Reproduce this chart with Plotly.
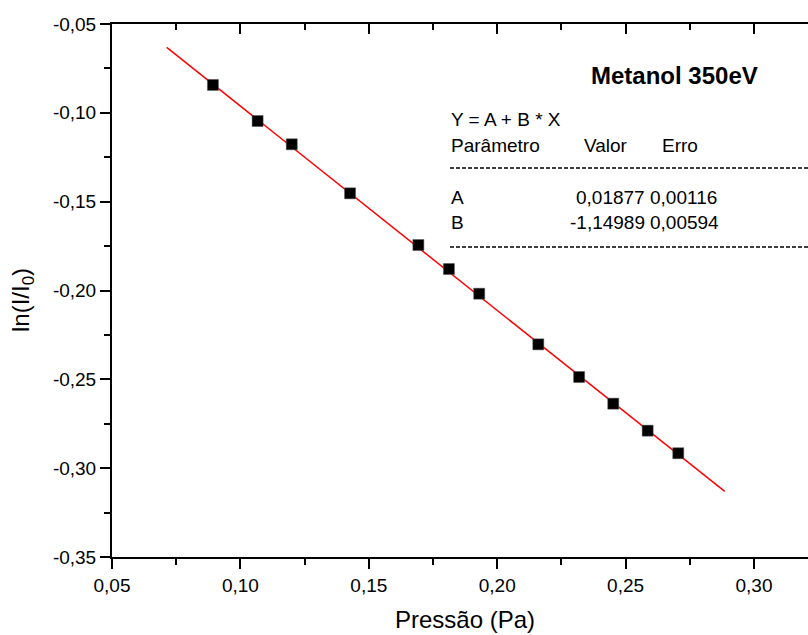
import plotly.graph_objects as go

# Data
pressao = [0.0893, 0.1067, 0.1200, 0.1427, 0.1693, 0.1812, 0.1930, 0.2160, 0.2319, 0.2452, 0.2586, 0.2705]
ln_ratio = [-0.0843, -0.1046, -0.1177, -0.1453, -0.1744, -0.1879, -0.2018, -0.2303, -0.2487, -0.2637, -0.2789, -0.2916]

fit_x = [0.0713, 0.2886]
fit_y = [-0.0632, -0.3131]

x_tickvals = [0.05, 0.10, 0.15, 0.20, 0.25, 0.30]
x_ticktext = ["0,05", "0,10", "0,15", "0,20", "0,25", "0,30"]
y_tickvals = [-0.35, -0.30, -0.25, -0.20, -0.15, -0.10, -0.05]
y_ticktext = ["-0,35", "-0,30", "-0,25", "-0,20", "-0,15", "-0,10", "-0,05"]

FONT = "Arial, Liberation Sans, sans-serif"
W, H = 808, 635
L, R, T, B = 112, 0, 24, 78
PW, PH = W - L - R, H - T - B


def px(x):
    return (x - L) / PW


def py(y):
    return (H - B - y) / PH


fig = go.Figure()
fig.add_trace(go.Scatter(x=fit_x, y=fit_y, mode="lines",
                         line=dict(color="#ff0000", width=1.5), hoverinfo="skip"))
fig.add_trace(go.Scatter(x=pressao, y=ln_ratio, mode="markers",
                         marker=dict(symbol="square", size=11, color="black",
                                     line=dict(width=0.5, color="#555"))))
fig.add_trace(go.Scatter(x=[None], y=[None], xaxis="x2", mode="markers",
                         marker=dict(opacity=0), hoverinfo="skip"))

xr = [0.05, 0.05 + 0.05 * PW / 128.4]
axis_common = dict(showgrid=False, zeroline=False, showline=True, linecolor="black",
                   linewidth=2, tickcolor="black", tickwidth=2,
                   tickfont=dict(family=FONT, size=19, color="black"))

fig.update_layout(
    width=W, height=H, showlegend=False,
    plot_bgcolor="white", paper_bgcolor="white",
    margin=dict(l=L, r=R, t=T, b=B),
    xaxis=dict(range=xr, tickmode="array", tickvals=x_tickvals, ticktext=x_ticktext,
               ticks="outside", ticklen=10,
               minor=dict(dtick=0.025, tick0=0.05, ticks="outside", ticklen=6,
                          tickwidth=2, tickcolor="black"),
               **axis_common),
    xaxis2=dict(range=xr, overlaying="x", side="top", anchor="y", tickmode="array",
                tickvals=x_tickvals, showticklabels=False, ticks="inside", ticklen=10,
                minor=dict(dtick=0.025, tick0=0.05, ticks="inside", ticklen=6,
                           tickwidth=2, tickcolor="black"),
                **axis_common),
    yaxis=dict(range=[-0.35, -0.05], tickmode="array", tickvals=y_tickvals,
               ticktext=y_ticktext, ticks="outside", ticklen=10,
               minor=dict(dtick=0.025, tick0=-0.35, ticks="outside", ticklen=6,
                          tickwidth=2, tickcolor="black"),
               **axis_common),
)

txt = dict(family=FONT, size=19, color="black")
ann = [
    dict(text="<b>Metanol 350eV</b>", x=px(674), y=py(75), xanchor="center",
         font=dict(family=FONT, size=24, color="black")),
    dict(text="Y = A + B * X", x=px(449), y=py(120), xanchor="left", font=txt),
    dict(text="Parâmetro", x=px(449), y=py(145), xanchor="left", font=txt),
    dict(text="Valor", x=px(606), y=py(145), xanchor="center", font=txt),
    dict(text="Erro", x=px(660), y=py(145), xanchor="left", font=txt),
    dict(text="A", x=px(449), y=py(197), xanchor="left", font=txt),
    dict(text="0,01877", x=px(647), y=py(197), xanchor="right", font=txt),
    dict(text="0,00116", x=px(648), y=py(197), xanchor="left", font=txt),
    dict(text="B", x=px(449), y=py(222), xanchor="left", font=txt),
    dict(text="-1,14989", x=px(647), y=py(222), xanchor="right", font=txt),
    dict(text="0,00594", x=px(648), y=py(222), xanchor="left", font=txt),
    dict(text="Pressão (Pa)", x=px(465), y=py(619), xanchor="center",
         font=dict(family=FONT, size=24, color="black")),
    dict(text="ln(I/I<sub>0</sub>)", x=px(22), y=py(300), xanchor="center",
         textangle=-90, font=dict(family=FONT, size=24, color="black")),
]
for a in ann:
    a.update(xref="paper", yref="paper", showarrow=False, yanchor="middle")
fig.update_layout(annotations=ann)

for yy in (168, 247):
    fig.add_shape(type="line", xref="paper", yref="paper", x0=px(450), x1=px(808),
                  y0=py(yy), y1=py(yy), line=dict(color="black", width=1.5, dash="4px,2px"))

fig.write_html("out.html", config={"displayModeBar": False},
               post_script="document.body.style.margin='0';document.body.style.overflow='hidden';")
